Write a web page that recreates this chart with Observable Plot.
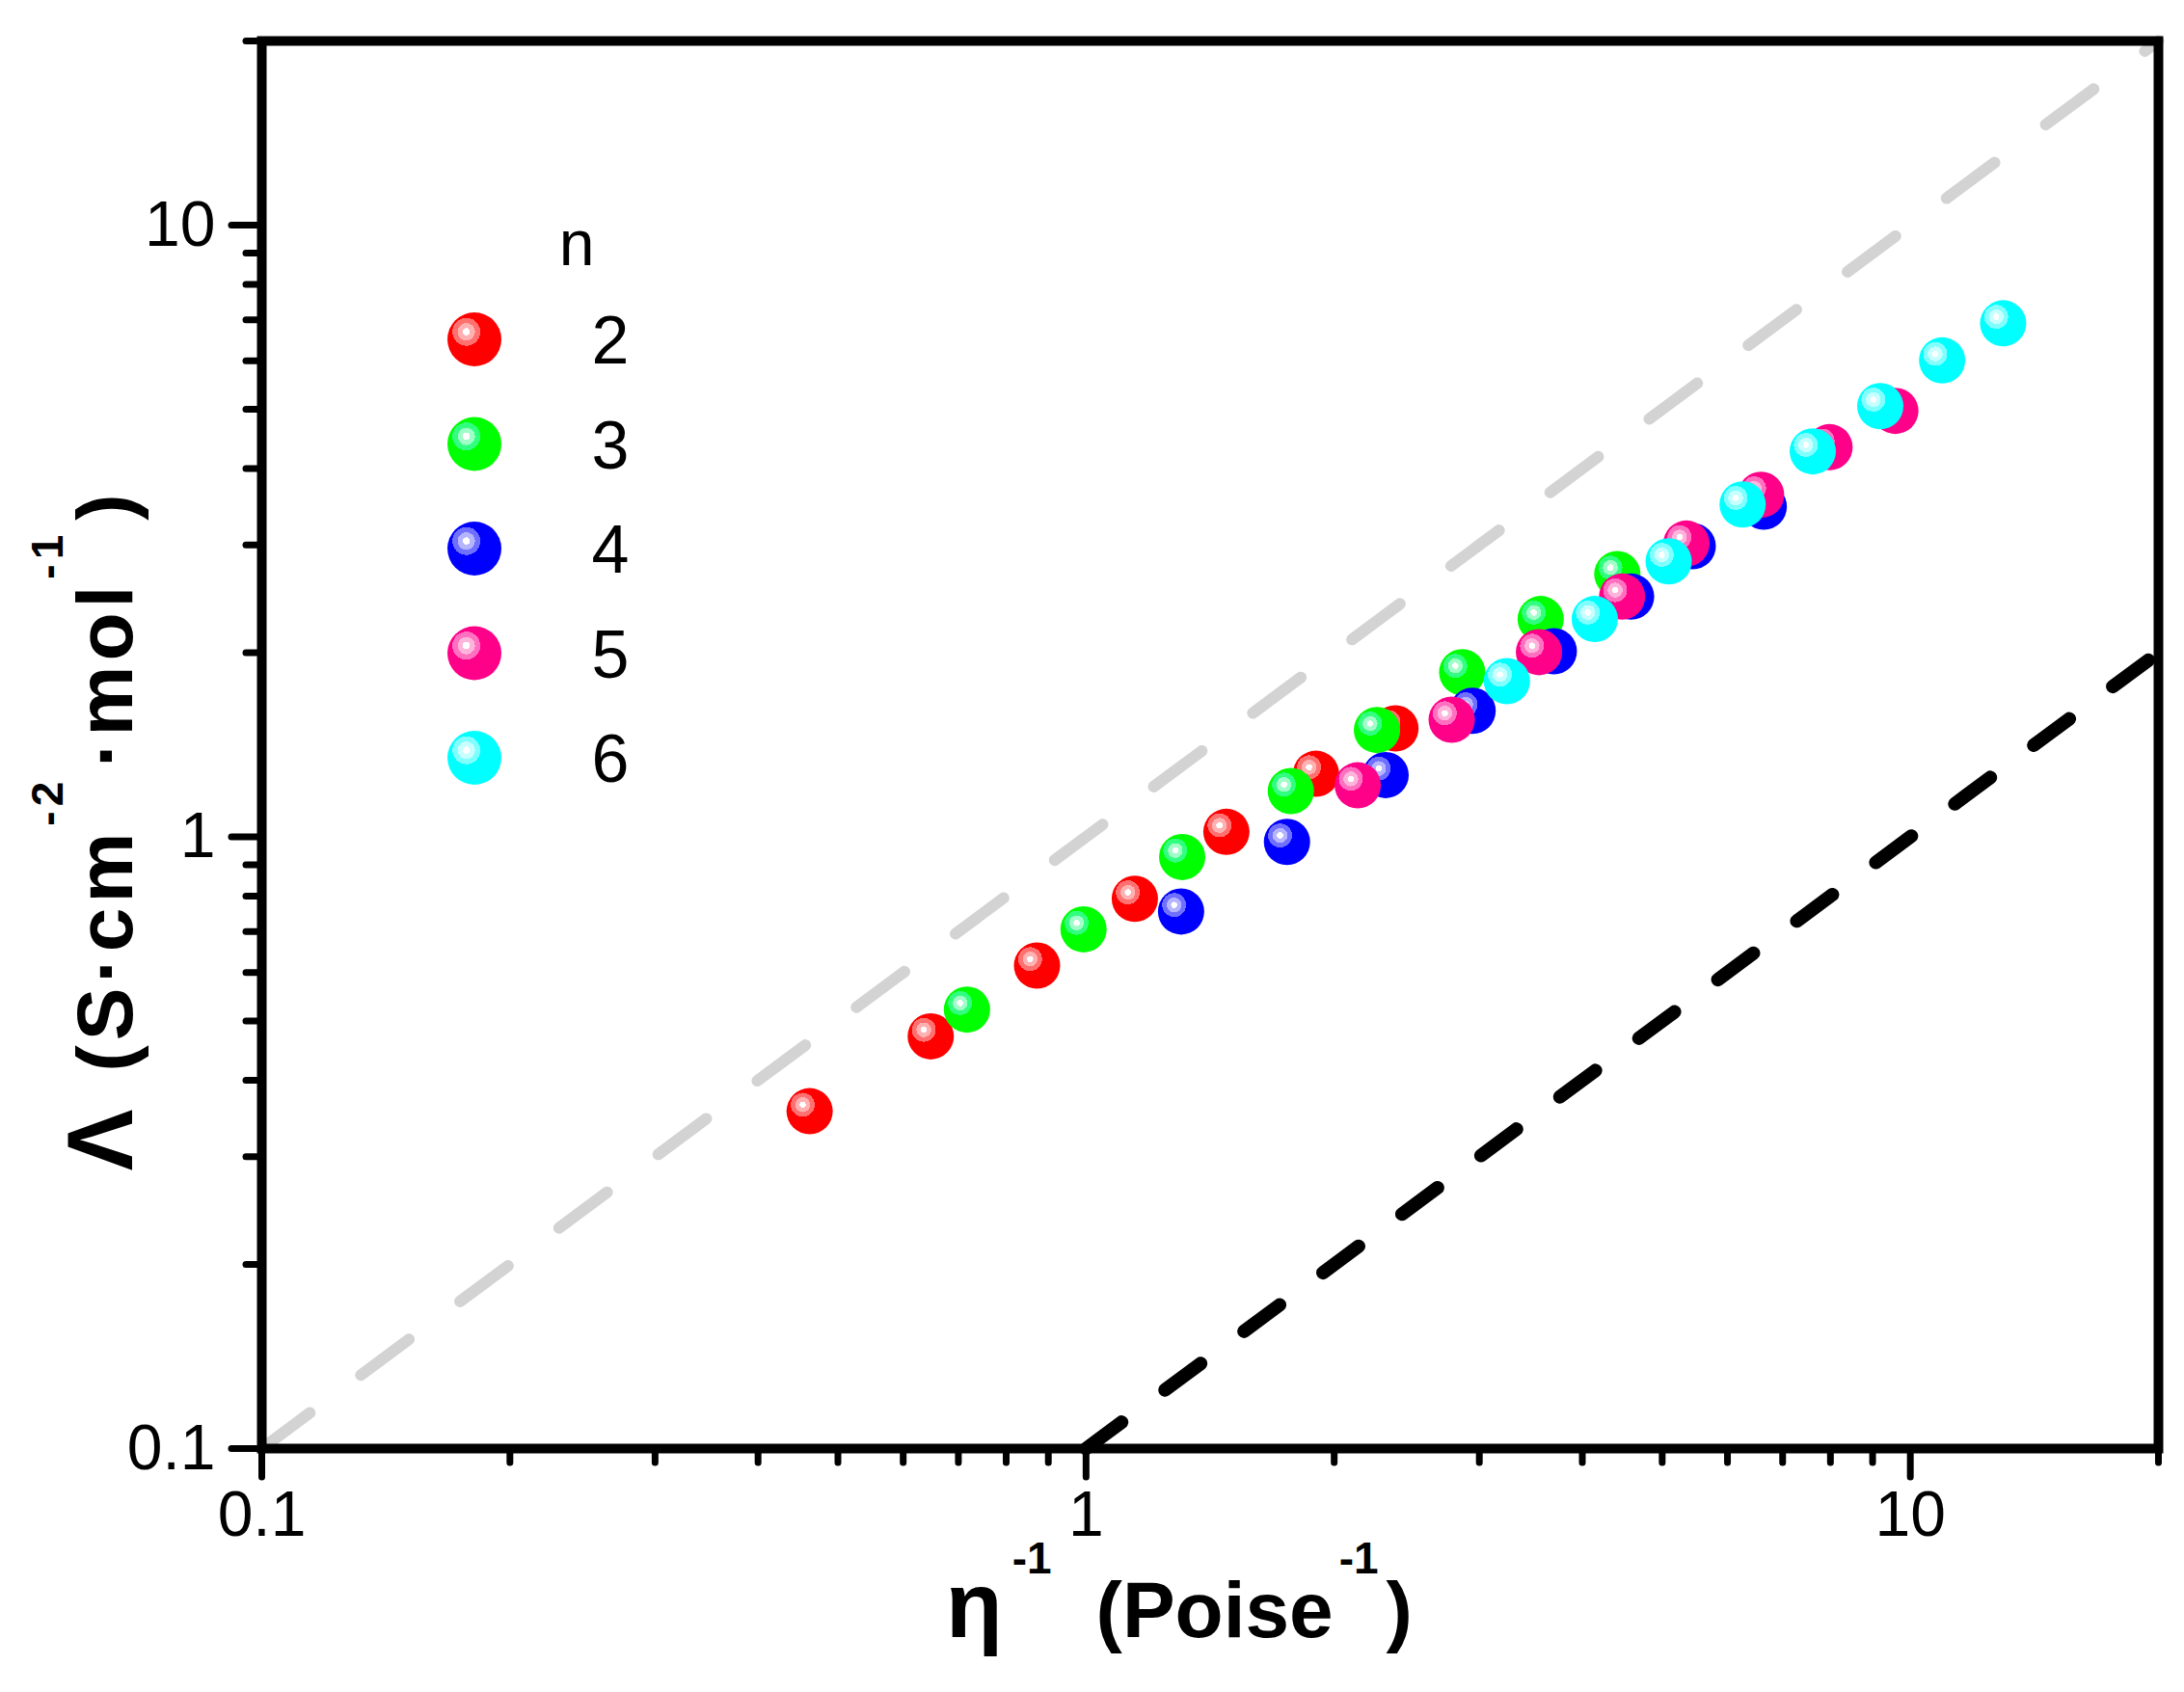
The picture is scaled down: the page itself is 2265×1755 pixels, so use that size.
<!DOCTYPE html>
<html>
<head>
<meta charset="utf-8">
<script src="https://cdn.jsdelivr.net/npm/d3@7"></script>
<script src="https://cdn.jsdelivr.net/npm/@observablehq/plot@0.6"></script>
<style>
  html, body { margin: 0; padding: 0; background: #fff; }
  #chart { width: 2265px; height: 1755px; }
</style>
</head>
<body>
<div id="chart"></div>
<script>
// ---- data ----
const seriesN = [2, 3, 4, 5, 6];
const seriesColor = ["#ff0000", "#00ff00", "#0000ff", "#ff0088", "#00ffff"];
const seriesPale  = ["#ffb0b0", "#a0ffc8", "#b4b4ff", "#ffb4dc", "#c8ffff"];
const seriesMid   = ["#ff7070", "#30ff80", "#7070ff", "#ff70c0", "#80ffff"];

const eta2 = [0.462, 0.648, 0.872, 1.146, 1.480, 1.901, 2.373];
const lam2 = [0.356, 0.472, 0.616, 0.792, 1.019, 1.268, 1.504];
const eta3 = [0.717, 0.993, 1.308, 1.772, 2.254, 2.860, 3.561, 4.411];
const lam3 = [0.522, 0.706, 0.927, 1.188, 1.495, 1.858, 2.270, 2.689];
const eta4 = [1.304, 1.753, 2.309, 2.944, 3.694, 4.584, 5.445, 6.64];
const lam4 = [0.755, 0.981, 1.262, 1.607, 2.011, 2.470, 2.987, 3.466];
const eta5 = [2.136, 2.777, 3.544, 4.470, 5.35, 6.59, 7.98, 9.59];
const lam5 = [1.214, 1.554, 2.004, 2.470, 3.016, 3.624, 4.335, 4.97];
const eta6 = [3.240, 4.142, 5.091, 6.26, 7.615, 9.195, 10.93, 12.96];
const lam6 = [1.797, 2.270, 2.821, 3.494, 4.267, 5.06, 6.01, 6.91];

// reference lines: Λ = η⁻¹ (grey) and Λ = 0.1·η⁻¹ (black)
const greyLineX = [0.1, 20];
const greyLineY = [0.1, 20];
const blackLineX = [1, 20];
const blackLineY = [0.1, 2];

const xMajor = [0.1, 1, 10];
const xMinor = [0.2, 0.3, 0.4, 0.5, 0.6, 0.7, 0.8, 0.9, 2, 3, 4, 5, 6, 7, 8, 9, 20];
const yMajor = [0.1, 1, 10];
const yMinor = [0.2, 0.3, 0.4, 0.5, 0.6, 0.7, 0.8, 0.9, 2, 3, 4, 5, 6, 7, 8, 9, 20];

const xTitle = ["η", "-1", "(Poise", "-1", ")"];
const yTitle = ["Λ", "(S·cm", "-2", "·mol", "-1", ")"];
const legendTitle = "n";

// ---- build tables ----
const etas = [eta2, eta3, eta4, eta5, eta6];
const lams = [lam2, lam3, lam4, lam5, lam6];
const series = seriesN.map((n, i) => ({
  n, color: seriesColor[i], pale: seriesPale[i], mid: seriesMid[i],
  data: etas[i].map((x, j) => ({x, y: lams[i][j]}))
}));
const greyLine = greyLineX.map((x, i) => ({x, y: greyLineY[i]}));
const blackLine = blackLineX.map((x, i) => ({x, y: blackLineY[i]}));

const FONT = "'Liberation Sans', Arial, sans-serif";
const fmt = d => String(d);

const plot = Plot.plot({
  width: 2265,
  height: 1755,
  marginLeft: 271,
  marginRight: 27,
  marginTop: 42,
  marginBottom: 253,
  x: {type: "log", domain: [0.1, 20]},
  y: {type: "log", domain: [0.1, 20]},
  style: {fontFamily: FONT, background: "white", color: "black", overflow: "visible"},
  marks: [
    Plot.line(greyLine, {x: "x", y: "y", stroke: "#d3d3d3", strokeWidth: 12, strokeDasharray: "62,66", strokeLinecap: "round"}),
    Plot.line(blackLine, {x: "x", y: "y", stroke: "black", strokeWidth: 14, strokeDasharray: "46,56", strokeLinecap: "round"}),
    ...series.map(s => Plot.dot(s.data, {x: "x", y: "y", r: 24, fill: s.color, stroke: "none"})),
    Plot.frame({stroke: "black", strokeWidth: 10}),
    Plot.axisX(xMajor, {anchor: "bottom", tickSize: 30, tickPadding: 14, strokeWidth: 7, strokeLinecap: "round", fontSize: 66, tickFormat: fmt, label: null}),
    Plot.axisX(xMinor, {anchor: "bottom", tickSize: 15, strokeWidth: 7, strokeLinecap: "round", tickFormat: () => "", label: null}),
    Plot.axisY(yMajor, {anchor: "left", tickSize: 31, tickPadding: 17, strokeWidth: 7, strokeLinecap: "round", fontSize: 66, tickFormat: fmt, label: null}),
    Plot.axisY(yMinor, {anchor: "left", tickSize: 16, strokeWidth: 7, strokeLinecap: "round", tickFormat: () => "", label: null})
  ]
});

document.getElementById("chart").appendChild(plot);
const svg = d3.select(plot);

// sphere-like radial gradients
const defs = svg.insert("defs", ":first-child");
series.forEach(s => {
  const g = defs.append("radialGradient")
    .attr("id", "sph" + s.n)
    .attr("cx", 0.35).attr("cy", 0.36).attr("fx", 0.35).attr("fy", 0.36).attr("r", 0.34);
  [[0, "#ffffff"], [0.2, "#ffffff"], [0.2, s.pale], [0.47, s.pale], [0.47, s.mid], [0.76, s.mid], [0.76, s.color], [1, s.color]]
    .forEach(([o, c]) => g.append("stop").attr("offset", o).attr("stop-color", c));
});
svg.selectAll('g[aria-label="dot"]').each(function(d, i) {
  d3.select(this).attr("fill", `url(#sph${series[i].n})`);
});

// axis titles
const xt = svg.append("text")
  .attr("x", 1223).attr("y", 1698)
  .attr("text-anchor", "middle")
  .attr("fill", "black")
  .style("font-family", FONT).style("font-weight", "bold").style("font-size", "82px");
xt.append("tspan").style("font-size", "96px").text(xTitle[0]);
xt.append("tspan").attr("dx", 10).attr("dy", -66).style("font-size", "46px").text(xTitle[1]);
xt.append("tspan").attr("dx", 46).attr("dy", 66).text(xTitle[2]);
xt.append("tspan").attr("dx", 6).attr("dy", -66).style("font-size", "46px").text(xTitle[3]);
xt.append("tspan").attr("dx", 8).attr("dy", 66).text(xTitle[4]);

const yt = svg.append("text")
  .attr("transform", "translate(137,861) rotate(-90)")
  .attr("text-anchor", "middle")
  .attr("fill", "black")
  .style("font-family", FONT).style("font-weight", "bold").style("font-size", "82px")
  .style("letter-spacing", "5px");
yt.append("tspan").style("font-size", "96px").text(yTitle[0]);
yt.append("tspan").attr("dx", 34).text(yTitle[1]);
yt.append("tspan").attr("dx", 2).attr("dy", -72).style("font-size", "46px").text(yTitle[2]);
yt.append("tspan").attr("dx", 10).attr("dy", 72).text(yTitle[3]);
yt.append("tspan").attr("dx", 2).attr("dy", -72).style("font-size", "46px").text(yTitle[4]);
yt.append("tspan").attr("dx", 10).attr("dy", 72).text(yTitle[5]);

// legend
const lg = svg.append("g").style("font-family", FONT);
lg.append("text").attr("x", 598).attr("y", 275).attr("text-anchor", "middle")
  .style("font-size", "66px").attr("fill", "black").text(legendTitle);
series.forEach((s, i) => {
  const cy = 352 + 108.5 * i;
  lg.append("circle").attr("cx", 492).attr("cy", cy).attr("r", 28).attr("fill", `url(#sph${s.n})`);
  lg.append("text").attr("x", 633).attr("y", cy).attr("dy", "0.36em").attr("text-anchor", "middle")
    .style("font-size", "70px").attr("fill", "black").text(String(s.n));
});
</script>
</body>
</html>
